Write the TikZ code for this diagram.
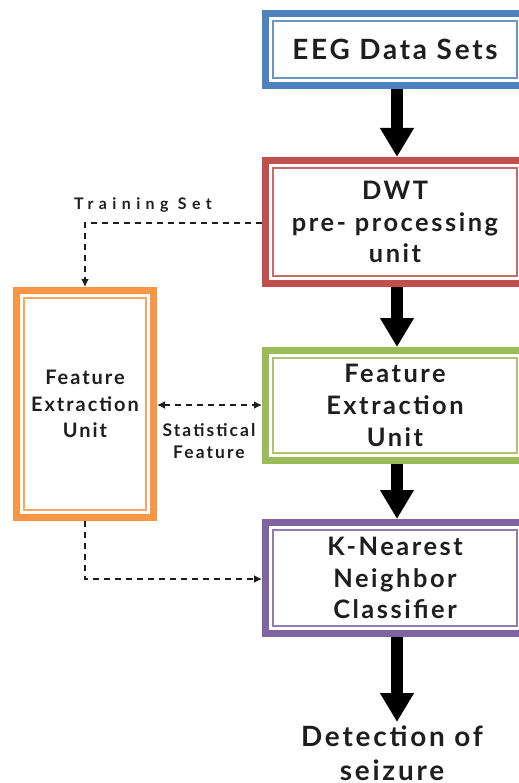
\documentclass[tikz,border=0pt]{standalone}
\usepackage{fontspec}
\setmainfont{Lato}[LetterSpace=10]
\newfontfamily\tagfont{Lato}[LetterSpace=34]
\newfontfamily\statfont{Lato}[LetterSpace=12]
\usetikzlibrary{arrows.meta}

\definecolor{cBlue}{HTML}{4F81BD}
\definecolor{cRed}{HTML}{C0504D}
\definecolor{cGreen}{HTML}{9BBB59}
\definecolor{cPurple}{HTML}{8064A2}
\definecolor{cOrange}{HTML}{F79646}
\definecolor{cInk}{HTML}{1E1E1E}

\tikzset{
  block/.style={draw=#1, line width=7bp, fill=white, align=center,
    font=\bfseries\fontsize{25.5}{32}\selectfont, text=cInk, inner sep=0pt},
  inner frame/.style={draw=#1!85, line width=1.4bp},
  flow/.style={line width=12bp, -{Triangle[width=32bp,length=29bp]}, draw=black},
  link/.style={draw=cInk, line width=1.8bp, dash pattern=on 6bp off 5bp},
  tip/.style={-{Latex[length=8bp,width=8bp]}},
  tag/.style={text=cInk, align=center, inner sep=0pt}
}

% inner thin frame, inset from the outer edge of the thick band
\newcommand\innerframe[2]{%
  \draw[inner frame=#2] ([shift={(11bp,-11bp)}]#1.north west) rectangle ([shift={(-11bp,11bp)}]#1.south east);}

\begin{document}
\begin{tikzpicture}[x=1bp,y=-1bp]
  \useasboundingbox[fill=white] (0,0) rectangle (519,783);

  % main column
  \node[block=cBlue, minimum width=259bp, minimum height=72bp, font=\bfseries\fontsize{28}{32}\selectfont]
    (eeg) at (395,49.5) {EEG Data Sets};
  \innerframe{eeg}{cBlue}
  \node[block=cRed, minimum width=259bp, minimum height=123bp]
    (dwt) at (395,222) {DWT\\pre- processing\\unit};
  \innerframe{dwt}{cRed}
  \node[block=cGreen, minimum width=259bp, minimum height=110bp]
    (fe) at (395,405.5) {Feature\\Extraction\\Unit};
  \innerframe{fe}{cGreen}
  \node[block=cPurple, minimum width=259bp, minimum height=111bp]
    (knn) at (395,578) {K-Nearest\\Neighbor\\Classifier};
  \innerframe{knn}{cPurple}
  \node[align=center, font=\bfseries\fontsize{28}{34}\selectfont, text=cInk, inner sep=0pt]
    (out) at (392,753) {Detection of\\seizure};

  % side unit
  \node[block=cOrange, minimum width=137bp, minimum height=227bp,
    font=\bfseries\fontsize{20}{26.5}\selectfont] (side) at (85,404) {Feature\\Extraction\\Unit};
  \innerframe{side}{cOrange}

  % main flow arrows
  \draw[flow] ([xshift=2bp]eeg.south) -- ([xshift=2bp]dwt.north);
  \draw[flow] ([xshift=2bp]dwt.south) -- ([xshift=2bp]fe.north);
  \draw[flow] ([xshift=2bp]fe.south) -- ([xshift=2bp]knn.north);
  \draw[flow] ([xshift=2bp]knn.south) -- ++(0,85) coordinate (end);

  % dashed side links
  \coordinate (tcorner) at (85,223);
  \draw[link, tip] (dwt.west |- tcorner) -- (tcorner) -- (side.north);
  \node[tag, font=\tagfont\bfseries\fontsize{16}{19}\selectfont] (tset) at (143,205) {Training Set};

  \draw[link, {Latex[length=8bp,width=8bp]}-{Latex[length=8bp,width=8bp]}]
    (side.east |- 0,405) -- (fe.west |- 0,405);
  \node[tag, font=\statfont\bfseries\fontsize{17.5}{22}\selectfont] (stat) at (209,441) {Statistical\\Feature};

  \coordinate (bcorner) at (85,579);
  \draw[link, tip] (side.south) -- (bcorner) -- (knn.west |- bcorner);
\end{tikzpicture}
\end{document}
